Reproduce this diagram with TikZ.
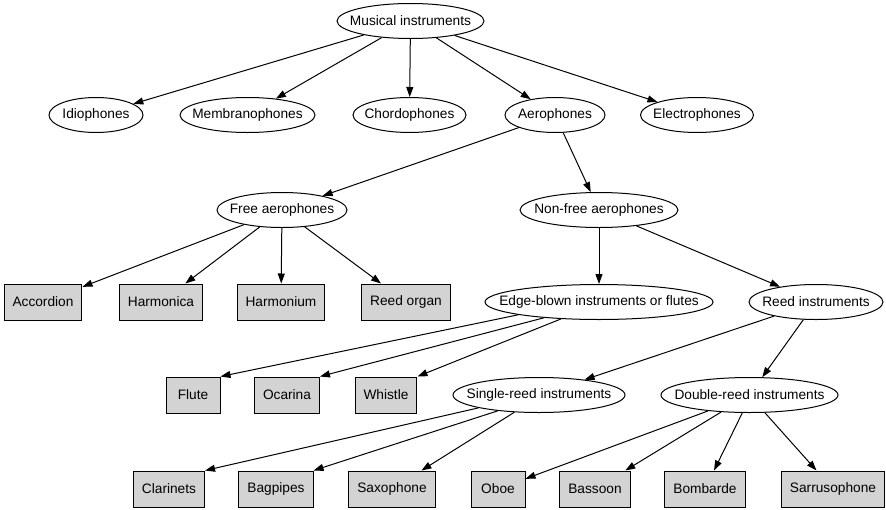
\documentclass[tikz,border=0pt]{standalone}
\usepackage{fontspec}
\setmainfont{Liberation Sans}
\usetikzlibrary{shapes.geometric, arrows.meta}
\definecolor{leafgray}{RGB}{211,211,211}

\begin{document}
\begin{tikzpicture}[
    x=1pt, y=-1pt,
    font=\fontsize{13.7}{16}\selectfont,
    family/.style={ellipse, draw, line width=1pt, inner xsep=-40pt, inner ysep=-10pt,
                   minimum height=35pt, minimum width=#1},
    leaf/.style={rectangle, draw, line width=1pt, fill=leafgray, inner xsep=8.5pt,
                 minimum width=54pt, minimum height=36pt},
    arrow/.style={-{Triangle[length=10pt, width=7pt]}, line width=1pt}
]
\useasboundingbox (0,0) rectangle (886,509);

% classes
\node[family=147] (root) at (410.5, 21) {Musical instruments};
\node[family=94]  (idio) at (96, 115) {Idiophones};
\node[family=135] (membr) at (247.5, 115) {Membranophones};
\node[family=113] (chord) at (409.5, 115) {Chordophones};
\node[family=100] (aero) at (555, 115) {Aerophones};
\node[family=113] (electro) at (697, 115) {Electrophones};
\node[family=130] (free) at (282, 210) {Free aerophones};
\node[family=158] (nonfree) at (599, 210) {Non-free aerophones};
\node[family=228] (edge) at (599, 302) {Edge-blown instruments or flutes};
\node[family=134] (reed) at (816, 302) {Reed instruments};
\node[family=172] (single) at (539, 395) {Single-reed instruments};
\node[family=177] (double) at (749.5, 395) {Double-reed instruments};

% instruments
\node[leaf] (accord) at (43, 302) {Accordion};
\node[leaf] (harmca) at (161, 302) {Harmonica};
\node[leaf] (harmum) at (281, 302) {Harmonium};
\node[leaf] (reedorg) at (406, 302) {Reed organ};
\node[leaf] (flute) at (193, 395) {Flute};
\node[leaf] (ocarina) at (287, 395) {Ocarina};
\node[leaf] (whistle) at (386, 395) {Whistle};
\node[leaf] (clar) at (169, 489) {Clarinets};
\node[leaf] (bagp) at (276, 489) {Bagpipes};
\node[leaf] (sax) at (392, 489) {Saxophone};
\node[leaf] (oboe) at (498, 489) {Oboe};
\node[leaf] (bassoon) at (595, 489) {Bassoon};
\node[leaf] (bomb) at (705, 489) {Bombarde};
\node[leaf] (sarr) at (833, 489) {Sarrusophone};

\foreach \a/\b in {root/idio, root/membr, root/chord, root/aero, root/electro,
                   aero/free, aero/nonfree,
                   free/accord, free/harmca, free/harmum, free/reedorg,
                   nonfree/edge, nonfree/reed,
                   reed/single, reed/double} {
    \draw[arrow] (\a) -- (\b);
}
% lower fans, leaving the ellipse where the lines split
\foreach \a/\b in {edge.189/flute.north east, edge.196/ocarina.north east,
                   edge.204/whistle.north east,
                   single.192/clar.north east, single.201/bagp.north east,
                   single.215/sax,
                   double.201/oboe, double.211/bassoon, double.248/bomb,
                   double.311/sarr} {
    \draw[arrow] (\a) -- (\b);
}
\end{tikzpicture}
\end{document}
